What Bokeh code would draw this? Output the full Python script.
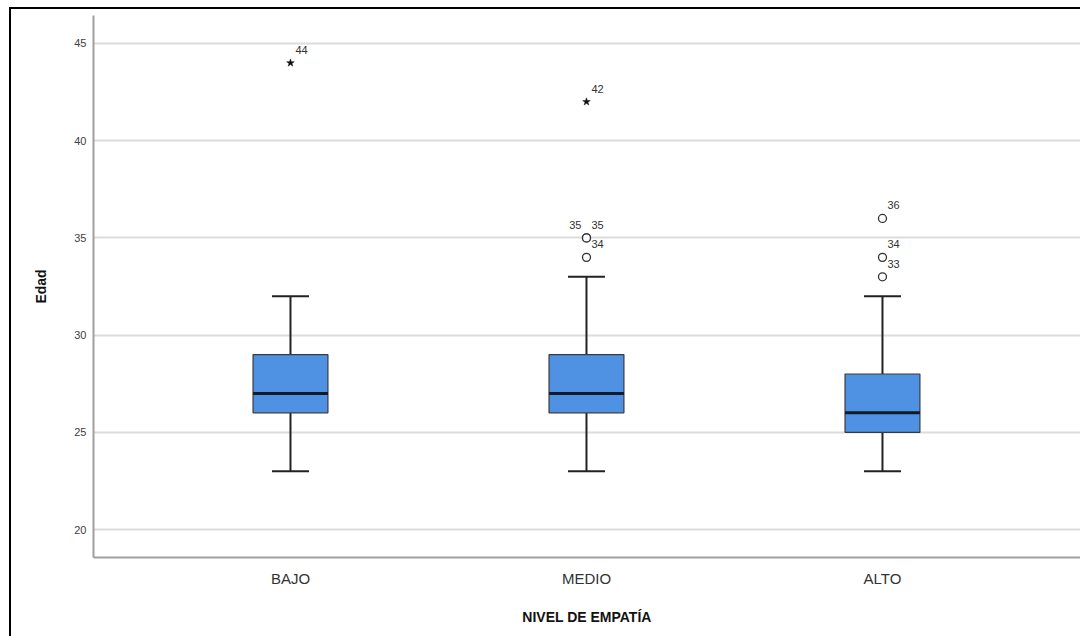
from bokeh.plotting import figure
from bokeh.models import ColumnDataSource, FixedTicker, Range1d
from bokeh.core.properties import value
from bokeh.embed import file_html
from bokeh.resources import INLINE

# ---- data ----
categories = ["BAJO", "MEDIO", "ALTO"]
whisker_low = [23, 23, 23]
q1 = [26, 26, 25]
median = [27, 27, 26]
q3 = [29, 29, 28]
whisker_high = [32, 33, 32]

# outliers: category, value, case label, kind ('o' = outlier, '*' = extreme)
outlier_cat = ["BAJO", "MEDIO", "MEDIO", "MEDIO", "MEDIO", "ALTO", "ALTO", "ALTO"]
outlier_val = [44, 42, 35, 35, 34, 36, 34, 33]
outlier_case = ["44", "42", "35", "35", "34", "36", "34", "33"]
outlier_kind = ["*", "*", "o", "o", "o", "o", "o", "o"]

y_ticks = [20, 25, 30, 35, 40, 45]

FONT = "Liberation Sans"

xpos = {c: i + 1 for i, c in enumerate(categories)}
xs = [xpos[c] for c in categories]

p = figure(width=1080, height=636, output_backend="svg", toolbar_location=None,
           x_range=Range1d(0.3345, 3.669), y_range=Range1d(18.56, 46.44),
           min_border_left=93, min_border_right=0, min_border_top=15,
           min_border_bottom=79)
p.outline_line_color = None
p.background_fill_color = "white"
p.border_fill_color = None
# outer frame line (top and left) drawn as the element's background
p.styles = {
    "background": "linear-gradient(#000,#000) 9px 7px / 2px 100% no-repeat, "
                  "linear-gradient(#000,#000) 9px 7px / 100% 2px no-repeat, #ffffff"
}

# grid
p.xgrid.grid_line_color = None
p.ygrid.grid_line_color = "#dcdcdc"
p.ygrid.grid_line_width = 2
p.ygrid.ticker = FixedTicker(ticks=y_ticks)

# axes
p.yaxis.ticker = FixedTicker(ticks=y_ticks)
p.yaxis.axis_line_color = "#a0a0a0"
p.yaxis.axis_line_width = 2
p.yaxis.major_tick_line_color = None
p.yaxis.major_tick_out = 0
p.yaxis.major_tick_in = 0
p.yaxis.minor_tick_line_color = None
p.yaxis.major_label_text_font = FONT
p.yaxis.major_label_text_font_size = "11px"
p.yaxis.major_label_text_color = "#404040"
p.yaxis.major_label_standoff = 7
p.yaxis.axis_label = "Edad"
p.yaxis.axis_label_text_font = FONT
p.yaxis.axis_label_text_font_style = "bold"
p.yaxis.axis_label_text_font_size = "14px"
p.yaxis.axis_label_text_color = "#111111"
p.yaxis.axis_label_standoff = 22

p.xaxis.ticker = FixedTicker(ticks=xs)
p.xaxis.major_label_overrides = {xpos[c]: c for c in categories}
p.xaxis.axis_line_color = "#a0a0a0"
p.xaxis.axis_line_width = 2
p.xaxis.major_tick_line_color = None
p.xaxis.major_tick_out = 0
p.xaxis.major_tick_in = 0
p.xaxis.minor_tick_line_color = None
p.xaxis.major_label_text_font = FONT
p.xaxis.major_label_text_font_size = "15px"
p.xaxis.major_label_text_color = "#333333"
p.xaxis.major_label_standoff = 12
p.xaxis.axis_label = "NIVEL DE EMPATÍA"
p.xaxis.axis_label_text_font = FONT
p.xaxis.axis_label_text_font_style = "bold"
p.xaxis.axis_label_text_font_size = "14px"
p.xaxis.axis_label_text_color = "#111111"
p.xaxis.axis_label_standoff = 19

box_w = 0.253
cap_w = 0.125

src = ColumnDataSource(dict(x=xs, lo=whisker_low, q1=q1, med=median, q3=q3, hi=whisker_high))

# whiskers
p.segment(x0="x", y0="lo", x1="x", y1="q1", source=src, line_color="#222222", line_width=2)
p.segment(x0="x", y0="q3", x1="x", y1="hi", source=src, line_color="#222222", line_width=2)
cap_src = ColumnDataSource(dict(x0=[x - cap_w / 2 for x in xs], x1=[x + cap_w / 2 for x in xs],
                                lo=whisker_low, hi=whisker_high))
p.segment(x0="x0", y0="lo", x1="x1", y1="lo", source=cap_src, line_color="#222222", line_width=2)
p.segment(x0="x0", y0="hi", x1="x1", y1="hi", source=cap_src, line_color="#222222", line_width=2)

# boxes
p.vbar(x="x", width=box_w, bottom="q1", top="q3", source=src,
       fill_color="#4f92e3", line_color="#3a3a3a", line_width=1.2)
# median
med_src = ColumnDataSource(dict(x0=[x - box_w / 2 for x in xs], x1=[x + box_w / 2 for x in xs], y=median))
p.segment(x0="x0", y0="y", x1="x1", y1="y", source=med_src, line_color="#111a2a", line_width=3)

# outliers
ox = [xpos[c] for c in outlier_cat]
circ_idx = [i for i, k in enumerate(outlier_kind) if k == "o"]
star_idx = [i for i, k in enumerate(outlier_kind) if k == "*"]
p.scatter(x=[ox[i] for i in circ_idx], y=[outlier_val[i] for i in circ_idx], marker="circle",
          size=8, fill_color="white", line_color="#333333", line_width=1.3)
p.scatter(x=[ox[i] for i in star_idx], y=[outlier_val[i] for i in star_idx], marker="star",
          size=8, fill_color="#111111", line_color="#111111", line_width=0.5)

# labels: duplicates of the same value in the same category go to the left
seen = set()
lab_x, lab_y, lab_t, lab_xo, lab_align = [], [], [], [], []
for c, v, t in zip(outlier_cat, outlier_val, outlier_case):
    key = (c, v)
    left = key in seen
    seen.add(key)
    lab_x.append(xpos[c])
    lab_y.append(v)
    lab_t.append(t)
    lab_xo.append(-5 if left else 5)
    lab_align.append("right" if left else "left")
lab_src = ColumnDataSource(dict(x=lab_x, y=lab_y, t=lab_t, xo=lab_xo, al=lab_align))
p.text(x="x", y="y", text="t", x_offset="xo", y_offset=-13, text_align="al",
       text_baseline="middle", source=lab_src, text_font=value(FONT),
       text_font_size="11px", text_color="#333333")

open("out.html", "w").write(file_html(p, INLINE))
